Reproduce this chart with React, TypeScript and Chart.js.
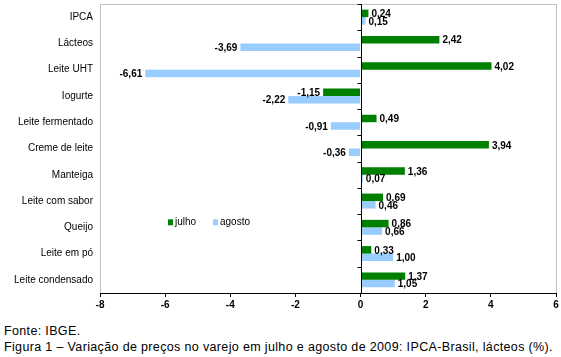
import React, { useEffect, useRef } from "react";
import { Chart, registerables } from "chart.js";

Chart.register(...registerables);

const categories = [
  "IPCA",
  "Lácteos",
  "Leite UHT",
  "Iogurte",
  "Leite fermentado",
  "Creme de leite",
  "Manteiga",
  "Leite com sabor",
  "Queijo",
  "Leite em pó",
  "Leite condensado",
];
const julho = [0.24, 2.42, 4.02, -1.15, 0.49, 3.94, 1.36, 0.69, 0.86, 0.33, 1.37];
const agosto = [0.15, -3.69, -6.61, -2.22, -0.91, -0.36, 0.07, 0.46, 0.66, 1.0, 1.05];
const seriesNames = ["julho", "agosto"];
const xMin = -8;
const xMax = 6;
const xStep = 2;

const GREEN = "#008000";
const BLUE = "#99CCFF";
const FONT = "'Liberation Sans', Arial, sans-serif";

const fmt = (v: number) => v.toFixed(2).replace(".", ",");

const decorPlugin = {
  id: "decor",
  beforeDatasetsDraw(chart: any) {
    const { ctx, chartArea } = chart;
    ctx.save();
    ctx.strokeStyle = "#c0c0c0";
    ctx.lineWidth = 1;
    ctx.strokeRect(
      Math.round(chartArea.left) + 0.5,
      Math.round(chartArea.top) + 0.5,
      Math.round(chartArea.right - chartArea.left),
      Math.round(chartArea.bottom - chartArea.top)
    );
    ctx.restore();
  },
  afterDatasetsDraw(chart: any) {
    const { ctx, chartArea, scales } = chart;
    const xs = scales.x;
    const ys = scales.y;
    ctx.save();
    const x0 = Math.round(xs.getPixelForValue(0)) + 0.5;
    ctx.strokeStyle = "#000";
    ctx.lineWidth = 1;
    ctx.beginPath();
    ctx.moveTo(x0, chartArea.top);
    ctx.lineTo(x0, chartArea.bottom);
    const n = categories.length;
    const h = (chartArea.bottom - chartArea.top) / n;
    for (let i = 0; i <= n; i++) {
      const y = Math.round(chartArea.top + i * h) + 0.5;
      ctx.moveTo(x0 - 4, y);
      ctx.lineTo(x0, y);
    }
    const yb = Math.round(chartArea.bottom) + 0.5;
    ctx.moveTo(chartArea.left, yb);
    ctx.lineTo(chartArea.right + 1, yb);
    ctx.stroke();

    ctx.font = `bold 10px ${FONT}`;
    ctx.fillStyle = "#000";
    ctx.textBaseline = "middle";
    chart.data.datasets.forEach((ds: any, di: number) => {
      const meta = chart.getDatasetMeta(di);
      meta.data.forEach((el: any, i: number) => {
        const v = ds.data[i];
        if (v >= 0) {
          ctx.textAlign = "left";
          ctx.fillText(fmt(v), el.x + 3, el.y + 1);
        } else {
          ctx.textAlign = "right";
          ctx.fillText(fmt(v), el.x - 3, el.y + 1);
        }
      });
    });

    const ly = ys.getPixelForValue(8) - 5;
    const lx = chartArea.left + 68;
    ctx.font = `10px ${FONT}`;
    ctx.textAlign = "left";
    ctx.fillStyle = GREEN;
    ctx.fillRect(lx, ly - 3, 5, 6);
    ctx.fillStyle = "#000";
    ctx.fillText(seriesNames[0], lx + 7, ly);
    ctx.fillStyle = BLUE;
    ctx.fillRect(lx + 45, ly - 3, 5, 6);
    ctx.fillStyle = "#000";
    ctx.fillText(seriesNames[1], lx + 52, ly);
    ctx.restore();
  },
};

export default function App() {
  const ref = useRef<HTMLCanvasElement>(null);
  useEffect(() => {
    if (!ref.current) return;
    const chart = new Chart(ref.current, {
      type: "bar",
      data: {
        labels: categories,
        datasets: [
          {
            label: seriesNames[0],
            data: julho,
            backgroundColor: GREEN,
            categoryPercentage: 0.57,
            barPercentage: 1,
          },
          {
            label: seriesNames[1],
            data: agosto,
            backgroundColor: BLUE,
            categoryPercentage: 0.57,
            barPercentage: 1,
          },
        ],
      },
      options: {
        indexAxis: "y",
        animation: false,
        responsive: false,
        maintainAspectRatio: false,
        layout: { padding: { left: 0, top: 4, right: 5, bottom: 0 } },
        plugins: { legend: { display: false }, tooltip: { enabled: false } },
        scales: {
          x: {
            min: xMin,
            max: xMax,
            ticks: {
              stepSize: xStep,
              color: "#000",
              font: { family: FONT, size: 10, weight: "bold" },
              padding: 2,
              maxRotation: 0,
            },
            grid: {
              drawOnChartArea: false,
              drawTicks: true,
              tickLength: 4,
              color: "#000",
            },
            border: { display: false },
            afterFit: (axis: any) => {
              axis.height = 27;
            },
          },
          y: {
            ticks: {
              color: "#000",
              font: { family: FONT, size: 10 },
              padding: 7,
              autoSkip: false,
            },
            grid: { display: false, drawTicks: false },
            border: { display: false },
            afterFit: (axis: any) => {
              axis.width = 100;
              axis.paddingTop = 0;
              axis.paddingBottom = 0;
            },
          },
        },
      },
      plugins: [decorPlugin],
    });
    return () => chart.destroy();
  }, []);
  return (
    <div
      style={{
        position: "absolute",
        left: 0,
        top: 0,
        width: 561,
        height: 357,
        background: "#fff",
        fontFamily: FONT,
      }}
    >
      <canvas ref={ref} width={561} height={320} style={{ display: "block" }} />
      <div style={{ position: "absolute", left: 4, top: 323, fontSize: 12.5, letterSpacing: "0.35px", lineHeight: "16px", color: "#000" }}>
        Fonte: IBGE.
      </div>
      <div style={{ position: "absolute", left: 4, top: 339, fontSize: 12.5, letterSpacing: "0.35px", lineHeight: "16px", color: "#000", whiteSpace: "nowrap" }}>
        Figura 1 – Variação de preços no varejo em julho e agosto de 2009: IPCA-Brasil, lácteos (%).
      </div>
    </div>
  );
}
